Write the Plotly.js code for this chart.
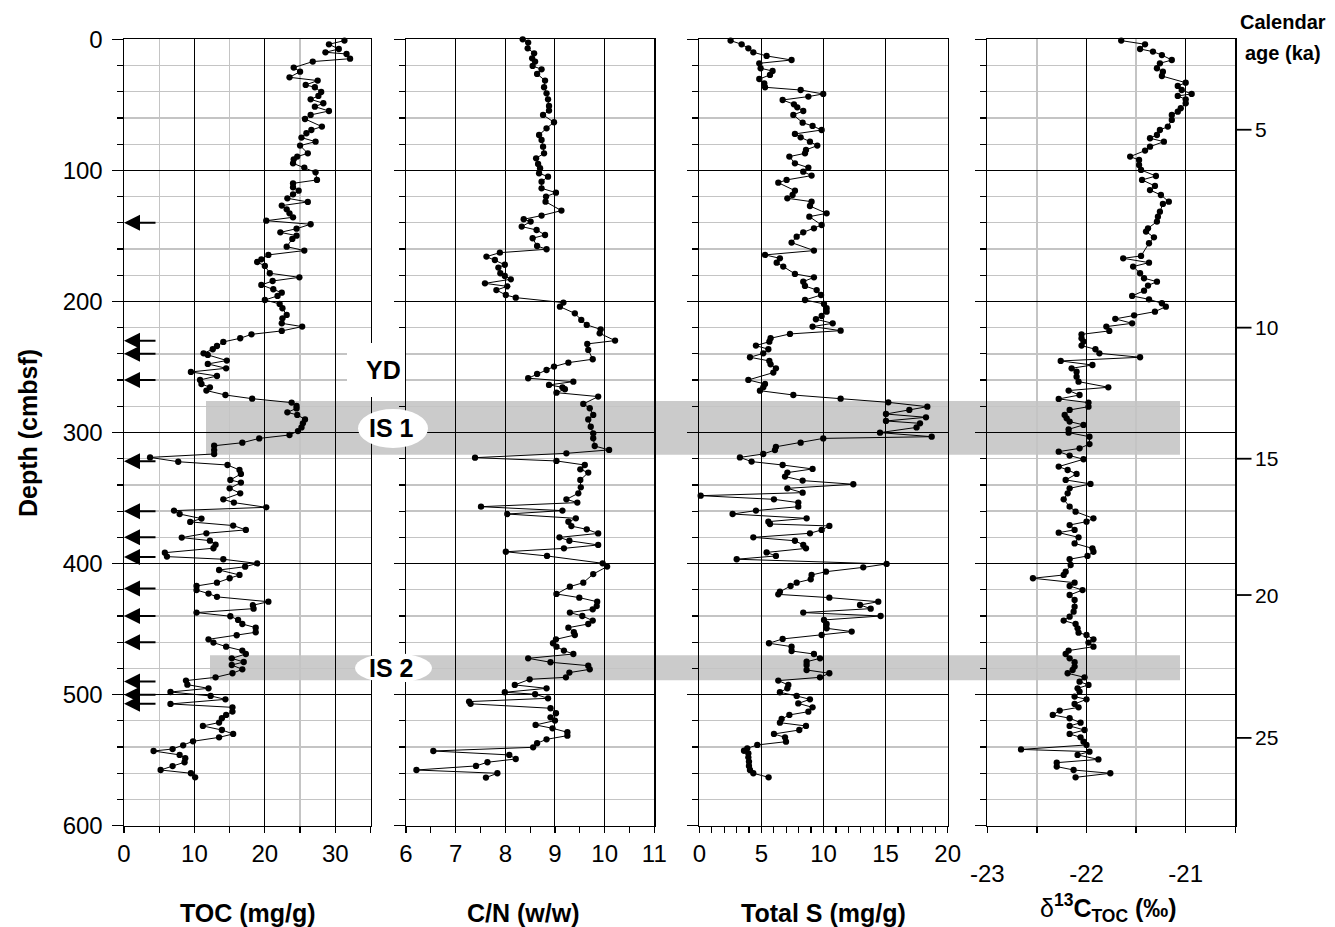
<!DOCTYPE html>
<html><head><meta charset="utf-8">
<script src="https://cdn.plot.ly/plotly-3.0.1.min.js"></script>
<style>html,body{margin:0;padding:0;background:#fff}#chart{width:1335px;height:927px}</style>
</head><body><div id="chart"></div>
<script>
// ---------------- DATA ----------------
const tocDepth = [1.0,3.8,7.4,9.9,11.2,14.8,17.0,21.6,24.7,29.0,31.5,34.8,36.6,40.2,43.2,45.8,48.8,51.4,54.7,57.7,60.8,66.6,69.2,71.7,75.0,78.1,81.1,87.0,89.5,91.6,94.6,97.9,101.5,107.3,109.9,112.9,115.5,118.3,121.3,124.1,126.9,129.7,132.8,135.8,138.4,141.1,144.5,147.3,149.8,152.3,158.2,161.2,164.5,167.9,169.9,172.9,178.5,181.6,184.4,187.4,190.7,193.3,195.8,198.9,201.9,205.2,210.3,212.9,216.7,219.2,222.5,225.1,228.1,230.9,234.0,236.5,239.6,240.8,245.1,247.7,251.0,253.8,256.9,259.9,263.0,265.5,268.0,271.4,274.2,277.2,279.8,281.6,284.6,286.6,290.0,293.0,296.1,298.9,301.9,304.5,307.8,310.1,313.4,316.4,319.0,322.3,324.8,328.6,331.6,336.2,338.2,342.6,346.4,351.0,353.5,357.1,359.6,362.2,365.7,368.2,371.0,374.3,376.9,380.2,382.5,385.6,388.3,391.7,394.7,396.7,399.9,402.4,404.9,408.7,411.2,414.6,417.1,420.2,422.9,425.4,429.1,431.8,434.4,437.4,440.2,443.0,446.1,448.9,452.4,454.7,457.8,460.3,463.4,466.4,469.0,472.3,475.1,477.4,480.7,483.7,486.8,489.3,492.4,495.2,498.0,501.0,503.6,507.1,509.7,512.9,515.5,518.0,521.3,523.9,527.0,530.0,532.6,535.6,538.7,541.5,543.0,546.0,548.5,551.6,554.5,557.5,560.0,563.1];
const tocValue = [31.3,29.1,30.5,28.6,31.6,32.1,26.8,24.1,25.0,23.5,27.5,25.8,27.1,28.0,27.6,26.5,28.3,27.1,29.1,26.5,25.7,28.1,26.6,25.9,25.2,27.2,25.0,26.1,24.6,24.1,24.0,25.6,27.2,27.4,24.0,24.0,24.8,24.0,23.2,26.1,22.4,23.1,23.5,24.0,20.2,26.5,24.5,22.2,24.5,23.9,23.1,25.6,20.5,19.5,18.9,20.0,20.7,24.9,21.1,19.5,21.2,22.4,21.8,20.0,22.1,22.5,23.1,22.5,22.4,25.3,22.4,18.1,16.5,14.1,13.2,12.6,11.3,11.9,14.6,11.9,14.5,9.5,13.2,10.8,11.0,12.2,11.7,14.4,18.2,23.8,24.5,24.5,23.2,24.6,25.7,25.4,25.2,24.7,23.5,19.2,16.8,12.8,12.8,12.8,3.7,7.7,14.7,16.4,16.6,15.1,16.6,15.0,16.5,14.1,15.6,20.2,7.1,7.9,11.0,9.4,15.5,17.3,11.7,8.2,12.2,13.0,12.7,5.8,6.1,14.1,18.9,17.2,13.5,16.4,15.0,13.2,10.3,10.3,12.0,13.2,20.5,18.3,18.4,10.3,15.1,16.2,16.8,18.7,18.7,16.0,12.0,12.7,14.5,16.8,17.3,15.3,17.0,15.3,16.8,15.4,13.0,8.8,9.0,12.0,6.6,12.3,14.4,6.6,15.4,15.4,14.5,13.9,13.5,11.2,13.9,15.5,13.5,9.8,8.4,6.9,4.2,7.9,8.7,8.6,6.9,5.2,9.5,10.1];

const cnDepth = [0.0,2.5,6.9,10.7,14.5,17.0,20.3,22.9,26.4,31.5,36.6,41.2,45.8,50.9,54.4,57.7,63.3,67.9,73.0,76.8,81.9,87.0,90.8,95.1,98.4,102.2,104.8,108.6,113.7,117.0,120.0,123.9,130.7,134.5,137.3,139.1,142.9,145.5,149.3,151.8,157.7,160.2,162.8,165.8,168.4,172.0,174.2,178.5,180.6,183.1,186.2,188.5,191.3,195.1,197.1,200.9,204.0,209.1,214.1,217.9,221.3,224.3,229.9,232.4,237.0,244.1,246.7,249.7,252.3,255.3,258.6,261.2,263.7,265.5,267.0,269.6,272.6,278.2,281.5,286.6,290.0,295.6,300.6,304.4,310.3,313.3,315.9,319.2,321.7,324.8,328.1,330.6,336.2,341.8,346.4,351.0,353.5,356.6,359.6,362.2,365.5,368.1,371.4,373.9,377.0,380.0,382.6,385.8,388.4,391.0,394.2,399.8,402.3,408.0,414.6,417.6,423.2,426.0,429.1,432.4,434.9,437.4,440.0,443.5,446.1,448.9,452.4,454.5,457.8,460.8,463.4,466.4,469.0,472.3,475.3,477.9,480.7,483.2,486.8,488.3,492.6,495.2,498.2,499.7,502.8,505.3,507.0,510.4,514.2,517.3,519.8,523.1,525.7,528.7,531.3,534.1,537.1,540.2,543.0,546.0,549.1,551.6,554.4,557.5,560.0,563.3];
const cnValue = [8.35,8.46,8.45,8.58,8.54,8.60,8.55,8.73,8.64,8.80,8.78,8.83,8.86,8.88,8.88,8.76,8.98,8.83,8.68,8.73,8.76,8.78,8.62,8.66,8.70,8.68,8.86,8.73,8.73,9.02,8.82,8.81,9.13,8.73,8.37,8.51,8.33,8.63,8.80,8.55,8.64,8.83,7.89,7.62,7.79,7.99,7.86,7.90,7.99,8.11,7.59,8.04,7.82,8.01,8.21,9.17,9.10,9.40,9.53,9.64,9.92,9.90,10.21,9.65,9.67,9.76,9.27,8.98,8.83,8.64,8.46,9.37,8.88,9.15,9.20,9.03,9.87,9.57,9.70,9.77,9.67,9.72,9.77,9.77,9.80,10.09,9.23,7.39,9.03,9.60,9.51,9.67,9.51,9.52,9.47,9.23,9.45,7.51,9.15,8.04,9.42,9.27,9.33,9.64,9.87,9.09,9.29,9.87,9.18,8.01,8.84,9.96,10.05,9.77,9.57,9.30,9.03,9.49,9.85,9.84,9.76,9.30,9.55,9.76,9.67,9.27,9.38,9.40,9.02,8.96,9.03,9.18,9.37,8.46,8.91,9.67,9.70,9.29,9.22,8.49,8.19,8.83,7.99,8.60,8.86,7.27,7.30,8.91,9.02,8.91,9.00,8.61,8.95,9.25,9.25,8.83,8.64,8.56,6.55,8.08,8.21,7.64,7.41,6.21,7.84,7.61];

const sDepth = [1.0,3.8,6.9,9.9,12.7,15.8,18.3,22.1,24.2,27.2,30.3,33.6,36.6,38.7,41.7,43.7,46.3,49.6,51.9,54.7,57.7,63.6,66.1,69.2,72.2,74.8,78.1,81.1,84.4,87.0,89.5,94.6,97.9,101.0,104.0,107.3,109.4,115.5,118.8,121.3,123.9,127.2,132.8,135.3,141.7,144.2,147.3,150.6,155.1,161.2,164.5,167.1,170.4,173.4,179.0,181.6,184.9,188.2,191.3,195.1,198.9,201.9,205.2,207.8,211.1,213.6,216.7,219.2,222.3,224.8,228.1,230.7,233.7,236.5,239.6,242.6,245.4,248.0,251.0,254.3,259.9,263.0,265.5,268.1,271.4,274.2,277.0,280.3,282.8,285.9,288.4,291.2,293.0,296.1,300.1,303.2,304.5,307.8,310.9,313.4,316.4,319.0,322.2,324.8,327.8,330.6,333.6,336.7,339.5,342.6,345.9,348.2,351.0,353.5,356.6,359.6,362.2,365.5,368.0,369.8,371.3,374.3,376.9,380.0,382.6,385.8,388.4,391.5,394.2,396.7,400.3,402.9,406.2,408.7,412.0,414.6,417.1,421.5,423.5,426.0,429.1,431.6,434.4,437.4,440.0,443.0,446.1,449.4,451.9,454.5,457.5,460.8,463.4,466.7,469.0,472.3,474.9,477.4,481.2,483.7,486.8,489.3,492.6,495.2,498.2,501.0,503.6,506.7,509.7,513.0,515.5,518.6,521.4,523.9,527.0,530.0,532.6,535.9,538.4,541.0,542.8,544.8,547.8,551.1,554.4,557.5,560.0,563.1];
const sValue = [2.52,3.41,3.95,4.35,5.42,7.43,4.83,4.94,5.90,5.69,4.83,5.23,5.29,8.16,9.98,8.78,6.71,7.62,7.89,8.37,7.57,8.32,9.12,9.85,7.70,8.16,8.91,9.50,8.59,8.51,7.25,7.70,8.78,8.37,9.04,7.03,6.36,7.70,7.51,7.09,9.04,8.91,10.25,8.86,9.85,9.23,8.37,7.84,7.43,9.23,5.29,6.49,6.23,6.76,7.70,9.23,8.37,8.51,9.45,9.80,8.51,10.04,10.25,10.25,9.85,9.39,10.74,9.12,11.38,7.30,5.74,5.64,4.56,5.56,5.15,4.08,5.64,5.74,6.17,5.96,3.95,5.29,5.15,4.88,7.57,11.38,15.22,18.36,16.91,15.03,18.25,15.03,17.77,17.49,14.55,18.71,9.98,8.16,6.17,6.09,5.15,3.27,4.21,6.71,9.12,7.09,6.90,8.32,12.40,7.09,8.32,0.11,6.01,7.97,7.97,4.56,2.68,8.64,5.56,5.69,10.47,9.85,8.91,4.35,7.70,8.37,8.59,5.42,6.17,3.01,15.08,13.20,10.20,9.04,8.97,7.84,7.35,6.49,6.36,10.47,14.41,12.94,13.80,8.37,14.60,10.04,10.25,10.25,12.27,9.85,6.71,5.61,7.43,7.43,9.23,9.72,8.64,8.64,8.64,10.47,9.72,6.36,7.17,7.09,6.49,7.84,8.91,7.97,9.12,8.78,7.25,6.63,6.49,8.59,8.05,6.01,6.90,6.98,4.67,3.86,3.60,3.95,3.95,4.00,4.00,4.08,4.35,5.58];

const d13cDepth = [1.0,3.8,7.4,9.4,12.0,15.8,18.3,22.1,24.7,28.0,33.1,35.6,38.7,41.7,43.2,45.8,48.8,52.6,55.2,57.7,61.5,66.6,69.2,73.0,75.5,78.1,81.9,84.9,89.5,92.1,95.9,99.7,104.3,107.3,111.9,115.0,118.8,123.9,125.6,131.5,135.3,139.1,144.2,146.7,151.1,155.6,165.3,167.1,170.4,173.4,178.5,182.3,184.9,187.9,191.8,195.8,198.4,201.4,204.0,207.8,210.6,213.3,216.7,219.2,222.5,225.1,228.1,230.6,233.7,236.5,239.6,242.6,245.4,248.5,251.0,253.6,257.4,261.2,265.5,268.0,271.4,274.4,277.2,280.3,282.8,286.6,289.2,291.7,294.2,297.6,300.1,303.2,308.8,312.1,314.6,317.6,320.4,326.0,328.6,331.6,336.2,339.2,342.6,346.4,351.0,356.6,360.4,365.5,368.0,370.6,374.3,376.4,380.0,384.6,388.4,391.0,394.2,396.7,401.1,406.2,408.7,411.2,414.6,417.1,420.2,424.0,427.8,432.9,436.7,440.5,443.5,446.1,449.4,452.7,454.5,457.8,460.3,463.4,466.4,469.0,472.3,475.3,478.6,481.2,483.7,486.8,490.1,492.6,495.2,497.7,501.5,503.6,507.1,509.7,512.2,515.5,518.0,521.4,523.9,527.0,530.0,532.6,535.9,538.4,541.8,543.5,546.0,549.4,551.9,554.9,557.5,560.0,563.1];
const d13cValue = [-21.65,-21.41,-21.46,-21.33,-21.24,-21.14,-21.26,-21.29,-21.23,-21.24,-21.00,-21.08,-21.04,-20.94,-21.08,-21.00,-21.00,-21.05,-21.08,-21.14,-21.14,-21.18,-21.26,-21.29,-21.36,-21.22,-21.36,-21.41,-21.56,-21.47,-21.47,-21.45,-21.30,-21.44,-21.31,-21.36,-21.25,-21.17,-21.23,-21.26,-21.28,-21.29,-21.38,-21.40,-21.32,-21.37,-21.45,-21.63,-21.37,-21.53,-21.46,-21.42,-21.29,-21.38,-21.42,-21.54,-21.37,-21.24,-21.20,-21.31,-21.52,-21.71,-21.54,-21.80,-21.77,-22.05,-22.05,-22.03,-22.05,-21.91,-21.87,-21.46,-22.26,-21.94,-22.15,-22.10,-22.10,-22.08,-21.78,-22.18,-22.07,-22.28,-21.98,-21.98,-22.17,-22.22,-22.20,-22.17,-22.03,-22.18,-22.18,-21.97,-21.97,-22.07,-22.28,-22.17,-22.03,-22.28,-22.19,-22.10,-22.21,-21.96,-22.17,-22.19,-22.23,-22.17,-22.11,-21.93,-22.00,-22.17,-22.12,-22.28,-22.08,-22.12,-21.94,-21.93,-21.99,-22.17,-22.16,-22.21,-22.23,-22.54,-22.12,-22.17,-22.04,-22.17,-22.12,-22.12,-22.13,-22.17,-22.23,-22.11,-22.09,-22.08,-22.00,-21.93,-21.98,-21.93,-22.18,-22.21,-22.17,-22.12,-22.12,-22.14,-22.19,-22.02,-22.07,-21.98,-22.09,-22.07,-22.12,-22.00,-22.12,-22.08,-22.27,-22.34,-22.17,-22.06,-22.17,-22.02,-22.17,-22.06,-22.03,-22.00,-22.66,-21.97,-22.09,-21.88,-22.30,-22.30,-22.13,-21.76,-22.11];

// dated / marked levels
const arrowDepths = [140, 230, 240, 260, 322, 360, 380, 395, 419, 440, 460, 490, 500, 507];
const ageLabels = [5, 10, 15, 20, 25];          // calendar age (ka)
const ageDepths = [69, 220, 320, 424, 533];     // depth (cmbsf) of each age tick
const bandNames = ['IS 1', 'IS 2'];
const bandTop = [276, 470];
const bandBottom = [317, 489];
const d13cTicks = [-23, -22, -21];
const depthRange = [600, 0];

// ---------------- LAYOUT HELPERS ----------------
const W = 1335, H = 927;
const px = v => v / W;
const py = v => 1 - v / H;
const FONT = 'Liberation Sans, Arial, Helvetica, sans-serif';
const GRAY = '#c4c4c4';
const yDom = [py(825.7), py(39.3)];
const xDoms = [[px(124), px(370.5)], [px(406), px(654.3)], [px(699.3), px(947.7)], [px(987.3), px(1235.3)]];
// position of a depth on the (shared) depth axis, as a fraction of the figure
const depthToPaper = d => yDom[0] + (d - depthRange[0]) / (depthRange[1] - depthRange[0]) * (yDom[1] - yDom[0]);

function xAxis(i, extra) {
  return Object.assign({
    domain: xDoms[i], anchor: i === 0 ? 'y' : 'y' + (i + 1),
    showline: true, mirror: true, linecolor: '#000', linewidth: 1.5,
    ticks: 'outside', ticklen: 6, tickwidth: 1.2, tickcolor: '#000',
    showgrid: true, gridcolor: '#000', gridwidth: 1, zeroline: false,
    tickfont: {family: FONT, size: 24, color: '#000'}, fixedrange: true
  }, extra);
}
function yAxis(i, showLabels) {
  return {
    domain: yDom, anchor: i === 0 ? 'x' : 'x' + (i + 1), range: depthRange,
    showline: true, mirror: true, linecolor: '#000', linewidth: 1.5,
    ticks: 'outside', ticklen: 11, tickwidth: 1.2, tickcolor: '#000',
    tick0: 0, dtick: 100, showgrid: true, gridcolor: '#000', gridwidth: 1, zeroline: false,
    showticklabels: showLabels, ticklabelstandoff: 4,
    tickfont: {family: FONT, size: 24, color: '#000'}, fixedrange: true,
    minor: {tick0: 0, dtick: 20, ticks: 'outside', ticklen: 6, tickwidth: 1.2, tickcolor: '#000',
            showgrid: true, gridcolor: GRAY, gridwidth: 1.3}
  };
}

const lineStyle = {color: '#000', width: 1};
const markStyle = {color: '#000', size: 6.3};
function series(x, y, i) {
  return {type: 'scatter', mode: 'lines+markers', x: x, y: y,
    xaxis: i === 0 ? 'x' : 'x' + (i + 1), yaxis: i === 0 ? 'y' : 'y' + (i + 1),
    line: lineStyle, marker: markStyle, hoverinfo: 'skip', showlegend: false, cliponaxis: false};
}

const data = [
  series(tocValue, tocDepth, 0),
  series(cnValue, cnDepth, 1),
  series(sValue, sDepth, 2),
  series(d13cValue, d13cDepth, 3)
];

const shapes = [];
bandNames.forEach((n, k) => {
  shapes.push({type: 'rect', xref: 'paper', yref: 'y', x0: px(k === 0 ? 206 : 210), x1: px(1180),
    y0: bandTop[k], y1: bandBottom[k], fillcolor: '#cbcbcb', line: {width: 0}, layer: 'below'});
});
// white label backgrounds
shapes.push({type: 'rect', xref: 'paper', yref: 'paper', x0: px(347), x1: px(405), y0: py(397), y1: py(343),
  fillcolor: '#fff', line: {width: 0}, layer: 'above'});
shapes.push({type: 'circle', xref: 'paper', yref: 'paper', x0: px(358), x1: px(428), y0: py(448), y1: py(409),
  fillcolor: '#fff', line: {width: 0}, layer: 'above'});
shapes.push({type: 'circle', xref: 'paper', yref: 'paper', x0: px(355), x1: px(432), y0: py(683), y1: py(653),
  fillcolor: '#fff', line: {width: 0}, layer: 'above'});
// calendar-age tick marks on the right edge of the last panel (thin filled bars)
ageDepths.forEach(d => {
  const yc = depthToPaper(d), h = 0.9 / H;
  shapes.push({type: 'rect', xref: 'paper', yref: 'paper', x0: px(1235.5), x1: px(1251.5),
    y0: yc - h, y1: yc + h, fillcolor: '#000', line: {width: 0}, layer: 'above'});
});

const bold = {family: FONT, size: 25, color: '#000'};
const annotations = [];
function label(text, x, y, font, extra) {
  annotations.push(Object.assign({text: text, xref: 'paper', yref: 'paper', x: px(x), y: py(y),
    showarrow: false, xanchor: 'center', yanchor: 'middle', font: font}, extra || {}));
}
label('<b>YD</b>', 383, 370, bold);
label('<b>' + bandNames[0] + '</b>', 391, 428, bold);
label('<b>' + bandNames[1] + '</b>', 391, 668, bold);
label('<b>TOC (mg/g)</b>', 248, 913, bold);
label('<b>C/N (w/w)</b>', 523, 913, bold);
label('<b>Total S (mg/g)</b>', 823, 913, bold);
label('δ<b><sup>13</sup>C<sub>TOC</sub> (‰)</b>', 1108, 908, bold);
label('<b>Depth (cmbsf)</b>', 28, 433, bold, {textangle: -90});
label('<b>Calendar</b>', 1283, 22, {family: FONT, size: 20, color: '#000'});
label('<b>age (ka)</b>', 1283, 53, {family: FONT, size: 20, color: '#000'});

ageDepths.forEach((d, k) => {
  annotations.push({xref: 'paper', yref: 'paper', x: px(1253), y: depthToPaper(d), text: String(ageLabels[k]),
    showarrow: false, xanchor: 'left', yanchor: 'middle', font: {family: FONT, size: 21, color: '#000'}});
});

arrowDepths.forEach(d => {
  annotations.push({xref: 'x', yref: 'y', x: 0, y: d, ax: 33, ay: 0, text: '', showarrow: true,
    arrowhead: 2, arrowsize: 1.6, arrowwidth: 2, arrowcolor: '#000', standoff: 0});
});

const layout = {
  width: W, height: H, margin: {l: 0, r: 0, t: 0, b: 0},
  paper_bgcolor: '#fff', plot_bgcolor: 'rgba(0,0,0,0)',
  font: {family: FONT, color: '#000'}, showlegend: false,
  xaxis: xAxis(0, {range: [0, 35], tick0: 0, dtick: 10,
    minor: {tick0: 0, dtick: 5, ticks: 'outside', ticklen: 6, tickwidth: 1.2, tickcolor: '#000', showgrid: true, gridcolor: GRAY, gridwidth: 1.3}}),
  xaxis2: xAxis(1, {range: [6, 11], tick0: 6, dtick: 1,
    minor: {tick0: 6, dtick: 0.5, ticks: 'outside', ticklen: 6, tickwidth: 1.2, tickcolor: '#000', showgrid: false}}),
  xaxis3: xAxis(2, {range: [0, 20], tick0: 0, dtick: 5,
    minor: {tick0: 0, dtick: 1, ticks: 'outside', ticklen: 6, tickwidth: 1.2, tickcolor: '#000', showgrid: false}}),
  xaxis4: xAxis(3, {range: [-23, -20.5], tickmode: 'array', tickvals: d13cTicks, ticktext: d13cTicks.map(String),
    ticklabelstandoff: 20,
    minor: {tick0: -23, dtick: 0.5, ticks: 'outside', ticklen: 6, tickwidth: 1.2, tickcolor: '#000', showgrid: true, gridcolor: GRAY, gridwidth: 1.3}}),
  yaxis: yAxis(0, true),
  yaxis2: yAxis(1, false),
  yaxis3: yAxis(2, false),
  yaxis4: yAxis(3, false),
  shapes: shapes,
  annotations: annotations
};

Plotly.newPlot('chart', data, layout, {displayModeBar: false, staticPlot: true});
</script>
</body></html>
